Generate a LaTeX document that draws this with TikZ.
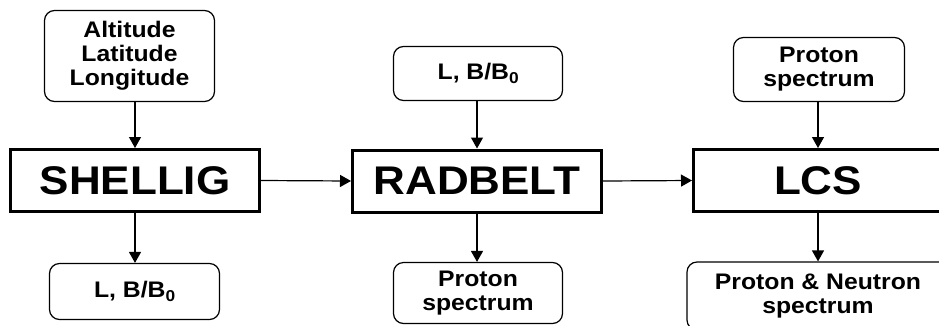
\documentclass[tikz,border=0pt]{standalone}
\usepackage{fontspec}
\setmainfont{Liberation Sans}[FakeStretch=1.1]
\usetikzlibrary{arrows.meta}
\begin{document}
\begin{tikzpicture}[x=1pt,y=-1pt,
  mainbox/.style={draw, line width=3pt, minimum width=249pt, minimum height=62pt, inner sep=0pt,
    font=\fontsize{40}{40}\selectfont\bfseries},
  iobox/.style={draw, rounded corners=10pt, line width=1.2pt, align=center, inner sep=0pt,
    font=\fontsize{22.5}{24}\selectfont\bfseries},
  arr/.style={line width=1.2pt, -{Triangle[length=11pt,width=12pt]}}]
\useasboundingbox (0,0) rectangle (939,325);
\clip (0,0) rectangle (939,325);
% main boxes
\node[mainbox] (sh) at (135,180.5) {SHELLIG};
\node[mainbox] (rb) at (477,181) {RADBELT};
\node[mainbox] (lcs) at (818,180.5) {LCS};
% input boxes
\node[iobox, minimum width=170pt, minimum height=91pt] (alt) at (129.5,56) {Altitude\\Latitude\\Longitude};
\node[iobox, minimum width=169pt, minimum height=54pt] (lbin) at (478,73.5) {L, B/B$_{\mathbf{0}}$};
\node[iobox, minimum width=171pt, minimum height=64pt] (psin) at (819,69.5) {Proton\\spectrum};
% output boxes
\node[iobox, minimum width=170pt, minimum height=56pt] (lbout) at (134.5,291.5) {L, B/B$_{\mathbf{0}}$};
\node[iobox, minimum width=169pt, minimum height=61pt] (psout) at (478,293) {Proton\\spectrum};
\node[iobox, minimum width=262pt, minimum height=68pt] (pnout) at (818,296) {Proton \& Neutron\\spectrum};
% connectors
\draw[arr] (alt.south -| sh.north) -- (sh.north);
\draw[arr] (lbin.south -| rb.north) -- (rb.north);
\draw[arr] (psin.south -| lcs.north) -- (lcs.north);
\draw[arr] (sh.south) -- (sh.south |- lbout.north);
\draw[arr] (rb.south) -- (rb.south |- psout.north);
\draw[arr] (lcs.south) -- (lcs.south |- pnout.north);
\draw[arr] (sh.east) -- (rb.west);
\draw[arr] (rb.east) -- (lcs.west);
\end{tikzpicture}
\end{document}
